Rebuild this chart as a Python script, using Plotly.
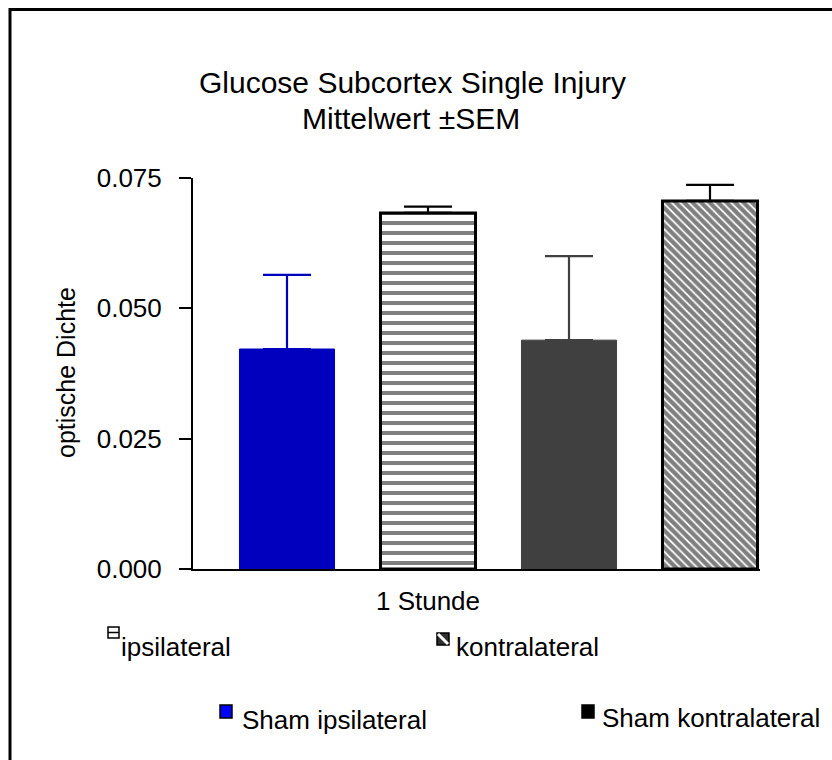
import plotly.graph_objects as go

# Glucose optical density, subcortex, single injury, 1 hour (mean ± SEM)
groups = ["Sham ipsilateral", "ipsilateral", "Sham kontralateral", "kontralateral"]
means = [0.0422, 0.0683, 0.0439, 0.0706]
sems = [0.0142, 0.0012, 0.0161, 0.0031]
time_label = "1 Stunde"
y_ticks = [0.0, 0.025, 0.05, 0.075]

W, H = 832, 760
L, R, T, B = 193, 760, 178, 569
FONT = "Liberation Sans, Arial, sans-serif"


def px(xp):
    return (xp - L) / (R - L)


def py(yp):
    return (B - yp) / (B - T)


styles = {
    "Sham ipsilateral": dict(color="#0000BE", line=dict(color="#0000BE", width=1), err="#0000BE"),
    "ipsilateral": dict(color="white", line=dict(color="black", width=3),
                        pattern=dict(shape="-", size=10, solidity=0.4, fgcolor="black", bgcolor="white"),
                        err="black"),
    "Sham kontralateral": dict(color="#404040", line=dict(color="#404040", width=1), err="#404040"),
    "kontralateral": dict(color="white", line=dict(color="black", width=3),
                          pattern=dict(shape="\\", size=6, solidity=0.7, fgcolor="black", bgcolor="white"),
                          err="black"),
}

fig = go.Figure()
for i, (g, m, s) in enumerate(zip(groups, means, sems)):
    st = styles[g]
    marker = dict(color=st["color"], line=st["line"])
    if "pattern" in st:
        marker["pattern"] = st["pattern"]
    fig.add_trace(go.Bar(
        x=[i], y=[m], name=g, width=0.674, marker=marker,
        error_y=dict(type="data", array=[s], arrayminus=[0], symmetric=False,
                     color=st["err"], thickness=2.2, width=24),
        showlegend=False,
    ))

shapes = []
annotations = []

# outer frame
shapes.append(dict(type="rect", xref="paper", yref="paper",
                   x0=px(10), x1=px(850), y0=py(780), y1=py(9.5),
                   line=dict(color="black", width=3), fillcolor="rgba(0,0,0,0)", layer="above"))

# title
annotations.append(dict(text="Glucose Subcortex Single Injury", xref="paper", yref="paper",
                        x=px(412), y=py(82), xanchor="center", yanchor="middle", showarrow=False,
                        font=dict(family=FONT, size=30, color="black")))
annotations.append(dict(text="Mittelwert \u00b1SEM", xref="paper", yref="paper",
                        x=px(411), y=py(119), xanchor="center", yanchor="middle", showarrow=False,
                        font=dict(family=FONT, size=30, color="black")))

# y-axis title
annotations.append(dict(text="optische Dichte", xref="paper", yref="paper",
                        x=px(66), y=py(373), xanchor="center", yanchor="middle", showarrow=False,
                        textangle=-90, font=dict(family=FONT, size=25, color="black")))

# legend entries drawn by hand
def legend_text(label, x_left, y_mid):
    annotations.append(dict(text=label, xref="paper", yref="paper", x=px(x_left), y=py(y_mid),
                            xanchor="left", yanchor="middle", showarrow=False,
                            font=dict(family=FONT, size=26, color="black")))


def box(x0, y0, x1, y1, fill, line="black", lw=1.5):
    shapes.append(dict(type="rect", xref="paper", yref="paper", x0=px(x0), x1=px(x1),
                       y0=py(y1), y1=py(y0), fillcolor=fill, line=dict(color=line, width=lw)))


def seg(x0, y0, x1, y1, color, lw):
    shapes.append(dict(type="line", xref="paper", yref="paper", x0=px(x0), x1=px(x1),
                       y0=py(y0), y1=py(y1), line=dict(color=color, width=lw)))


# ipsilateral: horizontal stripes
box(108, 627, 119, 638, "white")
seg(108, 632.5, 119, 632.5, "black", 1.5)
legend_text("ipsilateral", 119, 647)

# kontralateral: diagonal stripes
box(437, 633, 449, 645, "#303030")
seg(438, 634, 448, 644, "white", 3)
legend_text("kontralateral", 454, 647)

# Sham ipsilateral
box(220, 705, 232, 718, "#0000FF")
legend_text("Sham ipsilateral", 240, 720)

# Sham kontralateral
box(582, 705, 594, 718, "black")
legend_text("Sham kontralateral", 600, 718)

fig.update_layout(
    width=W, height=H,
    margin=dict(l=L, r=W - R, t=T, b=H - B, autoexpand=False),
    paper_bgcolor="white", plot_bgcolor="white",
    barmode="overlay",
    shapes=shapes, annotations=annotations,
    font=dict(family=FONT, color="black"),
    xaxis=dict(range=[-94 / 141, 3 + 50 / 141], tickvals=[1], ticktext=[time_label],
               showgrid=False, zeroline=False, showline=True, linecolor="black", linewidth=2,
               ticks="", ticklabelstandoff=8,
               tickfont=dict(size=26, family=FONT, color="black"), fixedrange=True),
    yaxis=dict(range=[0, 0.075], tickvals=y_ticks, tickformat=".3f",
               showgrid=False, zeroline=False, showline=True, linecolor="black", linewidth=2,
               ticks="outside", ticklen=12, tickwidth=2, tickcolor="black", ticklabelstandoff=12,
               tickfont=dict(size=26, family=FONT, color="black"), fixedrange=True),
)

fig.write_html("out.html")
